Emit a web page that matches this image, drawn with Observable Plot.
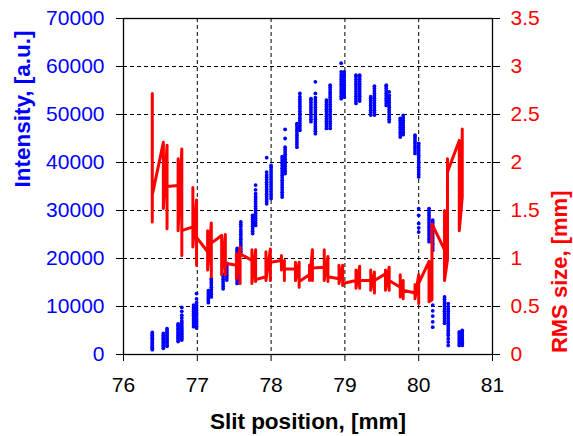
<!DOCTYPE html>
<html>
<head>
<meta charset="utf-8">
<script src="https://cdn.jsdelivr.net/npm/d3@7"></script>
<script src="https://cdn.jsdelivr.net/npm/@observablehq/plot@0.6"></script>
<style>
  html, body { margin: 0; padding: 0; background: #fff; }
  #chart svg { display: block; }
</style>
</head>
<body>
<div id="chart"></div>
<script>
// Slit positions of the blue intensity streaks (mm)
const intensityX = [
  76.39, 76.54, 76.59, 76.74, 76.79, 76.95, 76.99, 77.15, 77.19, 77.35, 77.40,
  77.54, 77.59, 77.75, 77.79, 77.94, 78.00, 78.15, 78.19, 78.35, 78.39, 78.54,
  78.60, 78.75, 78.80, 78.95, 78.99, 79.15, 79.20, 79.35, 79.40, 79.56, 79.60,
  79.75, 79.79, 79.95, 80.00, 80.14, 80.19, 80.35, 80.40, 80.55, 80.59
];
// Intensity readings at each slit position (a.u.)
const intensityValues = [
  [1000,1300,1600,1900,2200,2500,2800,3100,3400,3700,4000,4300,4600],
  [1300,1600,1900,2200,2500,2800,3100,3400,3700,4000,4400],
  [1700,2000,2400,2700,3000,3300,3700,4000,4400,4700,5000,5400],
  [2700,3000,3400,3700,4000,4400,4700,5100,5400,5800,6100,6400],
  [3000,3400,3800,4200,4600,5000,5400,5800,6200,6600,7000,7600,8200,9000,9800],
  [5800,6200,6600,7000,7400,7800,8200,8600,9000,9400,9800,10300],
  [5500,5900,6400,6900,7300,7800,8300,8700,9200,9700,10200,10800,11600,12700],
  [10800,11200,11600,12000,12400,12800,13300],
  [12000,12500,13000,13500,14000,14500,15000,15500,15800],
  [13700,14200,14700,15200,15700,16200,16700],
  [15500,16000,16500,17000,17500,18000,18500,19000],
  [14800,15300,15800,16300,16800,17300,17800,18300,18800,19300,19800,20300,20800,21300,21700,22100],
  [21000,21500,22000,22500,23000,23500,24000,24500,25000,25500,26000,26600,27100,27600],
  [25200,25700,26200,26700,27200,27700,28200,28600,29000],
  [26900,27400,27900,28400,28900,29400,29900,30400,30900,31400,31900,32400,32900,33500,34300,35300],
  [31400,31900,32400,32900,33400,33900,34400,34900,35400,35900,36400,36900,37400,38000,41000],
  [32500,33000,33500,34000,34500,35000,35500,36000,36500,37000,37500,38000,38500,39000,39400],
  [32800,33300,33800,34300,34800,35300,35800,36300,36800,37300,37800,38300,38800,39300,39800,40300,40800,41200],
  [37700,38200,38700,39200,39700,40200,40700,41200,41700,42200,42700,43200,45000,46900],
  [43200,43700,44200,44700,45200,45700,46200,46700,47200,47700,48100],
  [46700,47200,47700,48200,48700,49200,49700,50200,50700,51200,51700,52200,52700,53200,53700,54400],
  [48500,49000,49500,50000,50500,51000,51500,52000,52500,53000,53300],
  [46000,46500,47000,47500,48000,48500,49000,49500,50000,50500,51000,51500,52000,52500,53000,53500,54400,56800],
  [47100,47600,48100,48600,49100,49600,50100,50600,51100,51600,52100,52600,53000],
  [47100,47600,48100,48600,49100,49600,50100,50600,51100,51600,52100,52600,53100,53600,54100,54600,55100,55600,56100],
  [53300,53800,54300,54800,55300,55800,56300,56800,57300,57800,58300,58900,60700],
  [53600,54100,54600,55100,55600,56100,56600,57100,57600,58100,58500,58900],
  [52300,52800,53300,53800,54300,54800,55300,55800,56300,56800,57300,57800,58200],
  [52800,53300,53800,54300,54800,55300,55800,56300,56800,57300,57800,58200],
  [49900,50400,50900,51400,51900,52400,52900,53400,53700],
  [49900,50400,50900,51400,51900,52400,52900,53400,53900,54400,54900,55400,55900],
  [51900,52400,52900,53400,53900,54400,54900,55400,55800,56100],
  [48500,49000,49500,50000,50500,51000,51500,52000,52500,53000,53500,54000,54700],
  [45300,45800,46300,46800,47300,47800,48300,48800,49200],
  [45800,46300,46800,47300,47800,48300,48800,49300,49800],
  [41900,42400,42900,43400,43900,44400,44900,45300,45700],
  [37000,37500,38000,38500,39000,39500,40000,40500,41000,41500,42000,42500,43000,43500,44000,30400,29000,27300,26400,25500],
  [23500,24000,24500,25000,25500,26000,26500,27000,27500,28000,28500,29000,29500,30000,30400],
  [21700,22200,22700,23200,23700,24200,24700,25200,25700,26200,26700,27200,27600,28000,5700,6800,8000,9100,10300],
  [6500,7000,7500,8000,8500,9000,9500,10000,10500,11000,11500,12000],
  [5000,5500,6000,6500,7000,7500,8000,8500,9000,9500,10000,10600,1900,2600,3300,4000,4500],
  [1900,2300,2700,3100,3500,3900,4300,4700],
  [1900,2300,2700,3100,3500,3900,4300,4700,5000]
];
// RMS size series as [slit position mm, RMS size mm], in drawing order
const rmsSeries = [
  [76.39,1.38],[76.39,2.72],[76.39,1.66],
  [76.54,2.21],[76.54,1.52],
  [76.59,2.18],[76.59,1.31],[76.59,1.75],
  [76.74,1.76],[76.74,2.04],[76.74,1.29],
  [76.79,2.14],[76.79,1.03],[76.79,1.29],
  [76.94,1.33],[76.94,1.74],[76.94,1.12],
  [76.99,1.61],[76.99,0.93],[76.99,1.22],
  [77.14,1.07],[77.14,1.29],[77.14,0.88],
  [77.19,1.37],[77.19,0.81],[77.19,1.16],
  [77.33,1.24],[77.33,0.83],
  [77.38,1.25],[77.38,0.83],[77.38,0.95],
  [77.53,0.93],[77.53,1.05],[77.53,0.79],
  [77.58,1.12],[77.58,0.74],[77.58,1.05],
  [77.74,0.98],[77.74,1.09],[77.74,0.74],
  [77.79,1.09],[77.79,0.76],[77.79,0.78],
  [77.93,0.81],[77.93,1.07],[77.93,0.77],
  [77.99,1.10],[77.99,0.77],[77.99,0.96],
  [78.14,0.98],[78.14,1.03],[78.14,0.88],
  [78.18,0.98],[78.18,0.77],[78.18,0.89],
  [78.33,0.89],[78.33,0.96],[78.33,0.77],
  [78.38,0.96],[78.38,0.70],[78.38,0.76],
  [78.52,0.83],[78.52,0.93],[78.52,0.77],
  [78.56,1.09],[78.56,0.77],[78.56,0.90],
  [78.72,0.91],[78.72,1.09],[78.72,0.77],
  [78.77,1.02],[78.77,0.76],[78.77,0.81],
  [78.92,0.79],[78.92,0.93],[78.92,0.74],
  [78.97,0.93],[78.97,0.72],[78.97,0.74],
  [79.15,0.77],[79.15,0.88],[79.15,0.69],
  [79.20,0.92],[79.20,0.69],[79.20,0.77],
  [79.35,0.77],[79.35,0.88],[79.35,0.67],
  [79.40,0.86],[79.40,0.64],[79.40,0.77],
  [79.55,0.84],[79.55,0.88],[79.55,0.67],
  [79.60,0.91],[79.60,0.67],[79.60,0.77],
  [79.75,0.70],[79.75,0.83],[79.75,0.60],
  [79.79,0.77],[79.79,0.58],[79.79,0.67],
  [79.95,0.64],[79.95,0.73],[79.95,0.58],
  [80.00,0.83],[80.00,0.53],[80.00,0.74],
  [80.14,0.97],[80.14,0.55],
  [80.18,0.57],[80.18,1.36],
  [80.35,1.09],[80.35,1.50],[80.35,0.77],
  [80.39,0.99],[80.39,2.04],[80.39,1.90],
  [80.55,2.23],[80.55,1.29],
  [80.59,1.64],[80.59,2.35],[80.59,1.80]
];
const xTicks = [76, 77, 78, 79, 80, 81];
const intensityTicks = [0, 10000, 20000, 30000, 40000, 50000, 60000, 70000];
const rmsTicks = [0, 0.5, 1, 1.5, 2, 2.5, 3, 3.5];
const gridXValues = [77, 78, 79, 80];
const gridYValues = [10000, 20000, 30000, 40000, 50000, 60000];
const RMS_TO_INTENSITY = 20000; // 3.5 mm <-> 70000 a.u. (shared vertical scale)

const dots = intensityX.flatMap((x, i) => intensityValues[i].map(v => ({x, v})));
const rms = rmsSeries.map(([x, r]) => ({x, r}));

const BLUE = "#0000ff", RED = "#ff0000";
const font = "'Liberation Sans', Arial, sans-serif";

const chart = Plot.plot({
  width: 573,
  height: 436,
  marginLeft: 123,
  marginRight: 81,
  marginTop: 18,
  marginBottom: 82,
  style: {fontFamily: font, fontSize: "21px", background: "white", overflow: "visible"},
  x: {domain: [76, 81]},
  y: {domain: [0, 70000]},
  marks: [
    Plot.ruleX(gridXValues, {stroke: "black", strokeWidth: 1, strokeDasharray: "4,3"}),
    Plot.ruleY(gridYValues, {stroke: "black", strokeWidth: 1, strokeDasharray: "4,3"}),
    Plot.dot(dots, {x: "x", y: "v", r: 1.9, fill: BLUE, stroke: null}),
    Plot.line(rms, {x: "x", y: d => d.r * RMS_TO_INTENSITY, stroke: RED, strokeWidth: 3}),
    Plot.frame({stroke: "black", strokeWidth: 1.3}),
    Plot.axisX(xTicks, {tickSize: 7, tickPadding: 16, fill: "black", stroke: "black", label: null, tickFormat: d => String(d)}),
    Plot.axisY(intensityTicks, {anchor: "left", tickSize: 7, tickPadding: 12, fill: BLUE, stroke: "black", label: null, tickFormat: d => String(d)}),
    Plot.axisY(rmsTicks.map(t => t * RMS_TO_INTENSITY), {anchor: "right", tickSize: 7, tickPadding: 11, fill: RED, stroke: "black", label: null, tickFormat: d => String(d / RMS_TO_INTENSITY)}),
    Plot.text(["Slit position, [mm]"], {frameAnchor: "bottom", dy: 67, text: d => d, fontSize: 22.5, fontWeight: "bold", fill: "black", lineAnchor: "middle"}),
    Plot.text(["Intensity, [a.u.]"], {frameAnchor: "left", dx: -101, dy: 1, rotate: -90, text: d => d, fontSize: 22.5, fontWeight: "bold", fill: BLUE, lineAnchor: "middle"}),
    Plot.text(["RMS size, [mm]"], {frameAnchor: "right", dx: 67, dy: 4, rotate: -90, text: d => d, fontSize: 22, fontWeight: "bold", fill: RED, lineAnchor: "middle"})
  ]
});
document.getElementById("chart").appendChild(chart);
</script>
</body>
</html>
